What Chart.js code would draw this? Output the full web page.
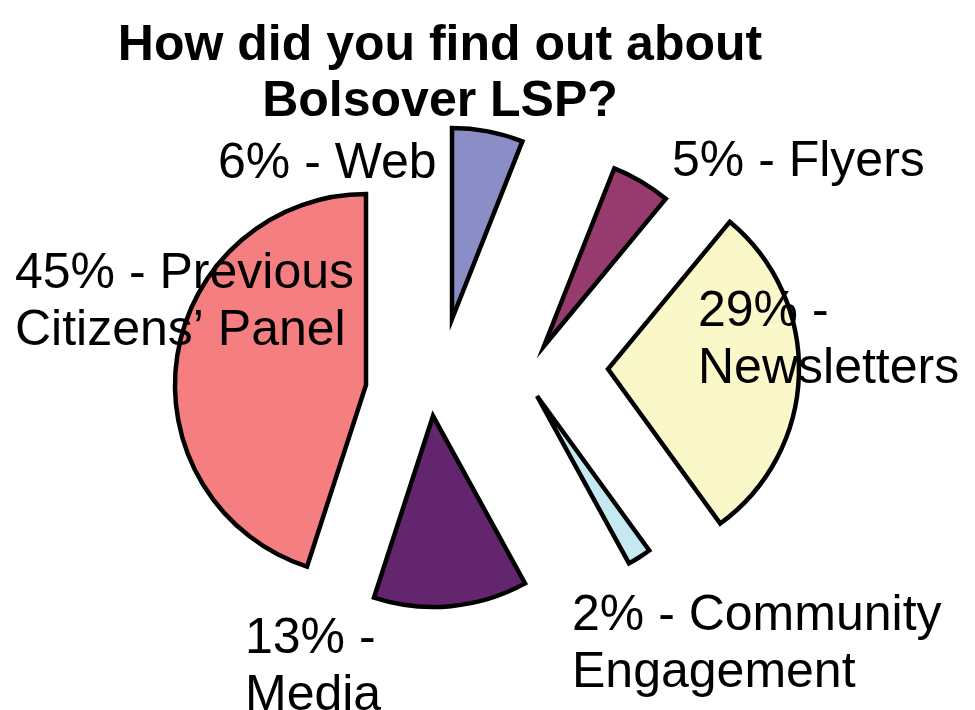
<!DOCTYPE html>
<html>
<head>
<meta charset="utf-8">
<title>How did you find out about Bolsover LSP?</title>
<script src="https://cdn.jsdelivr.net/npm/chart.js@4.4.1/dist/chart.umd.min.js"></script>
<style>
  html, body { margin: 0; padding: 0; background: #fff; }
  #wrap { width: 975px; height: 710px; }
</style>
</head>
<body>
<div id="wrap"><canvas id="pieChart" width="975" height="710"></canvas></div>
<script>
// Data
const categories = ['Web', 'Flyers', 'Newsletters', 'Community Engagement', 'Media', 'Previous Citizens\u2019 Panel'];
const percentages = [6, 5, 29, 2, 13, 45];
const titleLines = ['How did you find out about', 'Bolsover LSP?'];

// Styles
const sliceColors = ['#8b8ec6', '#973b6e', '#faf7c8', '#c5e9f0', '#63266e', '#f47e80'];
// each slice is pulled away from the centre by this shift (px)
const explode = [[-25, -61], [67, -34], [131, -11], [60, 16], [-44, 36], [-111, 5]];
// label placement: left x, first baseline, words kept on the first line
const labelLayout = [
    { x: 218, y: 178, split: 99 },
    { x: 672, y: 176, split: 99 },
    { x: 698, y: 326, split: 2 },
    { x: 572, y: 630, split: 3 },
    { x: 245, y: 653, split: 2 },
    { x: 15,  y: 288, split: 3 }
];
const FONT = '"Liberation Sans", Arial, sans-serif';

document.addEventListener('DOMContentLoaded', () => {
    const ctx = document.getElementById('pieChart').getContext('2d');

    // draw the slices shifted outward (exploded pie)
    const explodePlugin = {
        id: 'explodeSlices',
        beforeDatasetDraw(chart, args) {
            const c = chart.ctx;
            args.meta.data.forEach((arc, i) => {
                c.save();
                c.translate(explode[i][0], explode[i][1]);
                arc.draw(c);
                c.restore();
            });
            return false;
        }
    };

    // title and data labels
    const textPlugin = {
        id: 'pieText',
        afterDraw(chart) {
            const c = chart.ctx;
            c.save();
            c.fillStyle = '#000';
            c.textBaseline = 'alphabetic';

            c.font = 'bold 50px ' + FONT;
            c.textAlign = 'center';
            titleLines.forEach((line, i) => c.fillText(line, 440, 60 + i * 56));

            c.font = '50px ' + FONT;
            c.textAlign = 'left';
            categories.forEach((name, i) => {
                const words = (percentages[i] + '% - ' + name).split(' ');
                const lay = labelLayout[i];
                const lines = [words.slice(0, lay.split).join(' ')];
                if (words.length > lay.split) lines.push(words.slice(lay.split).join(' '));
                lines.forEach((line, j) => c.fillText(line, lay.x, lay.y + j * 57));
            });
            c.restore();
        }
    };

    new Chart(ctx, {
        type: 'pie',
        data: {
            labels: categories,
            datasets: [{
                data: percentages,
                backgroundColor: sliceColors,
                borderColor: '#000000',
                borderWidth: 4.5,
                borderJoinStyle: 'miter',
                hoverOffset: 0,
                radius: 191
            }]
        },
        options: {
            responsive: false,
            animation: false,
            layout: {
                padding: { left: 0, right: 21, top: 50, bottom: 0 }
            },
            plugins: {
                legend: { display: false },
                tooltip: { enabled: false }
            }
        },
        plugins: [explodePlugin, textPlugin]
    });
});
</script>
</body>
</html>
